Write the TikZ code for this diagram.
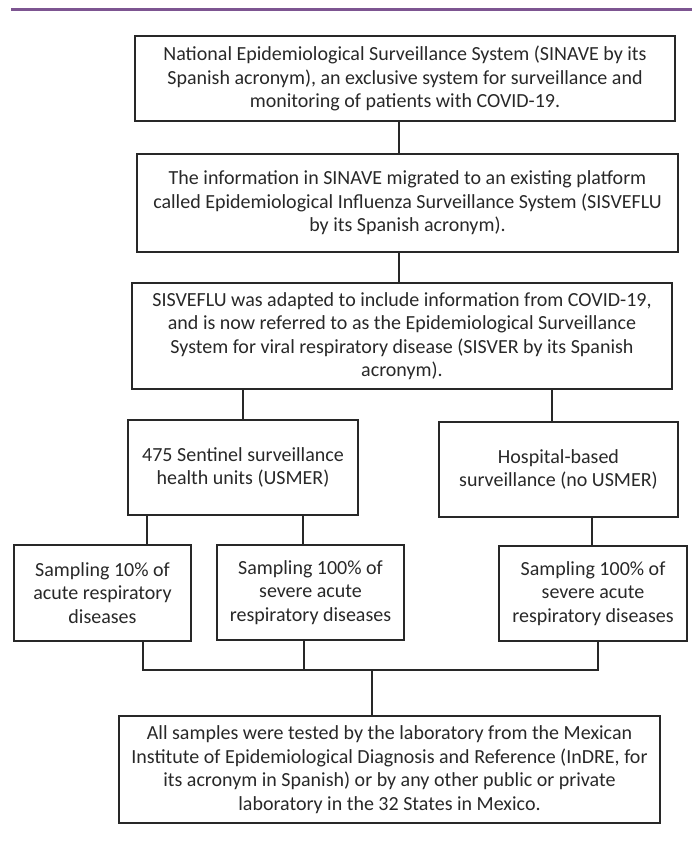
\documentclass[tikz,border=0pt]{standalone}
\usepackage{fontspec}
\setmainfont{Carlito}
\definecolor{topline}{RGB}{125,85,145}
\definecolor{ink}{RGB}{40,40,40}
\begin{document}
\begin{tikzpicture}[x=1pt,y=-1pt,
  box/.style={draw=ink, line width=1.4pt, rectangle, inner sep=0pt, align=center, text=ink,
    font=\fontsize{20}{23.5}\selectfont},
  link/.style={draw=ink, line width=1.4pt}]
\useasboundingbox (0,0) rectangle (692,853);
\draw[topline, line width=3pt] (11,10) -- (692,10);

\node[box, minimum width=540pt, minimum height=85pt] (b1) at (405,78.5)
  {National Epidemiological Surveillance System (SINAVE by its\\ Spanish acronym), an exclusive system for surveillance and\\ monitoring of patients with COVID-19.};
\node[box, minimum width=541pt, minimum height=98pt] (b2) at (407.5,203)
  {The information in SINAVE migrated to an existing platform\\ called Epidemiological Influenza Surveillance System (SISVEFLU\\ by its Spanish acronym).};
\node[box, minimum width=540pt, minimum height=106pt] (b3) at (402,336)
  {SISVEFLU was adapted to include information from COVID-19,\\ and is now referred to as the Epidemiological Surveillance\\ System for viral respiratory disease (SISVER by its Spanish\\ acronym).};
\node[box, minimum width=230pt, minimum height=95pt] (b4) at (243,467.5)
  {475 Sentinel surveillance\\ health units (USMER)};
\node[box, minimum width=239pt, minimum height=95pt] (b5) at (558.5,469.5)
  {Hospital-based\\ surveillance (no USMER)};
\node[box, minimum width=177pt, minimum height=96pt] (b6) at (102.5,593)
  {Sampling 10\% of\\ acute respiratory\\ diseases};
\node[box, minimum width=187pt, minimum height=95pt] (b7) at (310.5,592.5)
  {Sampling 100\% of\\ severe acute\\ respiratory diseases};
\node[box, minimum width=188pt, minimum height=95pt] (b8) at (593,593.5)
  {Sampling 100\% of\\ severe acute\\ respiratory diseases};
\node[box, minimum width=541pt, minimum height=107pt] (b9) at (389.5,769.5)
  {All samples were tested by the laboratory from the Mexican\\ Institute of Epidemiological Diagnosis and Reference (InDRE, for\\ its acronym in Spanish) or by any other public or private\\ laboratory in the 32 States in Mexico.};

\coordinate (c12) at (399,0);
\coordinate (c35) at (552,0);
\coordinate (c46) at (147,0);
\coordinate (c47) at (303,0);
\coordinate (c58) at (592,0);
\coordinate (busL) at (143,670);
\coordinate (busB) at (304,670);
\coordinate (busR) at (598,670);
\coordinate (busM) at (372,670);

\draw[link] (b1.south -| c12) -- (b2.north -| c12);
\draw[link] (b2.south -| c12) -- (b3.north -| c12);
\draw[link] (b3.south -| b4.north) -- (b4.north);
\draw[link] (b3.south -| c35) -- (b5.north -| c35);
\draw[link] (b4.south -| c46) -- (b6.north -| c46);
\draw[link] (b4.south -| c47) -- (b7.north -| c47);
\draw[link] (b5.south -| c58) -- (b8.north -| c58);
\draw[link] (b6.south -| busL) -- (busL) -- (busR) -- (b8.south -| busR);
\draw[link] (b7.south -| busB) -- (busB);
\draw[link] (busM) -- (b9.north -| busM);
\end{tikzpicture}
\end{document}
